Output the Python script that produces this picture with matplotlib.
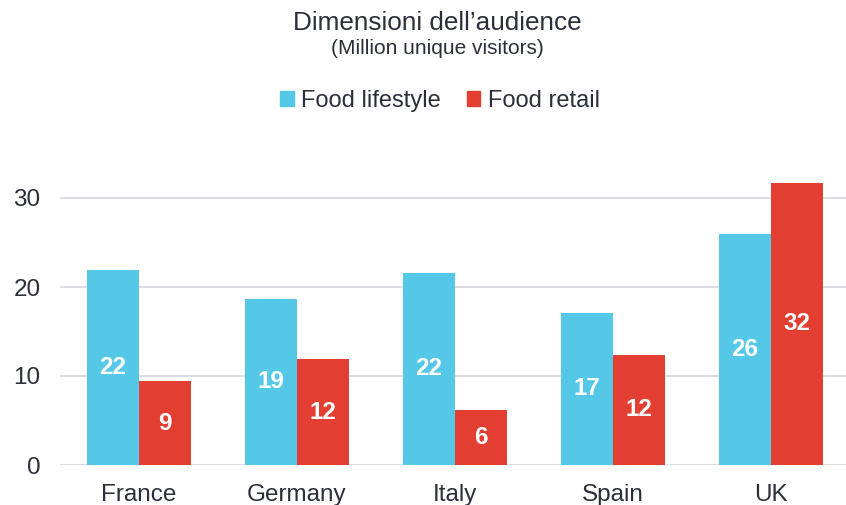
import matplotlib.pyplot as plt
import numpy as np
from matplotlib.patches import Patch

plt.rcParams["font.family"] = ["Liberation Sans", "DejaVu Sans"]

# dati
paesi = ["France", "Germany", "Italy", "Spain", "UK"]
food_lifestyle = [21.9, 18.7, 21.6, 17.1, 26.0]
food_retail = [9.4, 11.9, 6.2, 12.4, 31.7]
etichette_lifestyle = ["22", "19", "22", "17", "26"]
etichette_retail = ["9", "12", "6", "12", "32"]
y_ticks = [0, 10, 20, 30]

col_lifestyle = "#55c8e8"
col_retail = "#e23e32"
col_testo = "#2b2f3a"
col_griglia = "#dcdde3"

fig = plt.figure(figsize=(8.46, 5.05), dpi=100)
ax = fig.add_axes([60 / 846, 40 / 505, 790 / 846, 311.5 / 505])

x = np.arange(len(paesi))
w = 0.33

b1 = ax.bar(x - w / 2, food_lifestyle, w, color=col_lifestyle, zorder=3)
b2 = ax.bar(x + w / 2, food_retail, w, color=col_retail, zorder=3)

for bars, labels in [(b1, etichette_lifestyle), (b2, etichette_retail)]:
    for b, lab in zip(bars, labels):
        ax.text(b.get_x() + b.get_width() / 2, b.get_height() / 2, lab,
                ha="center", va="center", color="white",
                fontsize=17.5, fontweight="bold", zorder=4)

ax.set_xlim(-0.5, 4.5)
ax.set_ylim(0, 35)
ax.set_yticks(y_ticks)
ax.set_xticks(x)
ax.set_xticklabels(paesi)
ax.tick_params(axis="both", length=0, labelsize=17.5, colors=col_testo)
ax.tick_params(axis="y", pad=14)
ax.tick_params(axis="x", pad=14)
for s in ax.spines.values():
    s.set_visible(False)
ax.yaxis.grid(True, color=col_griglia, linewidth=1.5, zorder=0)
ax.set_axisbelow(True)

fig.text(0.517, 1 - 23 / 505, "Dimensioni dell\u2019audience", ha="center",
         va="center", fontsize=18.8, color=col_testo)
fig.text(0.517, 1 - 49 / 505, "(Million unique visitors)", ha="center",
         va="center", fontsize=15, color=col_testo)

handles = [Patch(color=col_lifestyle, label="Food lifestyle"),
           Patch(color=col_retail, label="Food retail")]
fig.legend(handles=handles, loc="center", bbox_to_anchor=(0.52, 1 - 101 / 505),
           ncol=2, frameon=False, fontsize=17, handlelength=0.58,
           handleheight=0.58, handletextpad=0.3, columnspacing=1.1,
           labelcolor=col_testo)

fig.savefig("out.png", dpi=100)
